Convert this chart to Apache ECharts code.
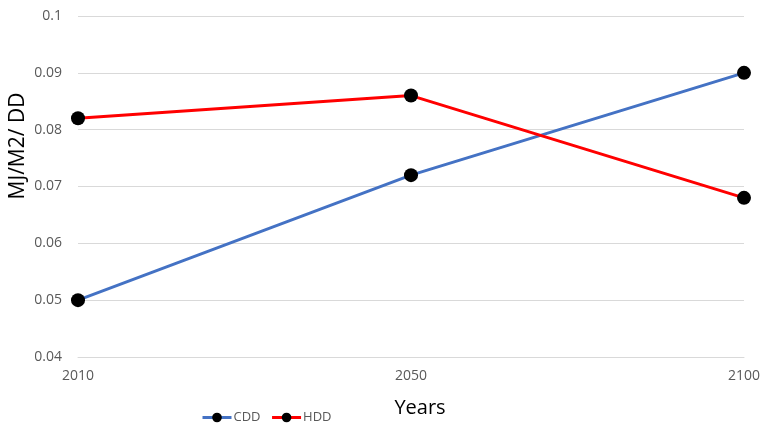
<!DOCTYPE html>
<html>
<head>
<meta charset="utf-8">
<script src="https://cdn.jsdelivr.net/npm/echarts@6/dist/echarts.min.js"></script>
<style>
  html, body { margin: 0; padding: 0; background: #fff; }
  #chart { width: 763px; height: 424px; }
</style>
</head>
<body>
<div id="chart"></div>
<script>
// Energy intensity per degree-day, by scenario year
const years = ['2010', '2050', '2100'];
const cddValues = [0.05, 0.072, 0.09];
const hddValues = [0.082, 0.086, 0.068];
const yTicks = { min: 0.04, max: 0.1, interval: 0.01 };
const xTitle = 'Years';
const yTitle = 'MJ/M2/ DD';

const chart = echarts.init(document.getElementById('chart'));
const font = "'Open Sans', 'Liberation Sans', sans-serif";

function lineSeries(name, data, color) {
  return {
    name: name,
    type: 'line',
    data: data,
    symbol: 'circle',
    symbolSize: 14,
    itemStyle: { color: '#000' },
    lineStyle: { color: color, width: 3 },
    emphasis: { disabled: true },
    animation: false
  };
}

chart.setOption({
  backgroundColor: '#fff',
  textStyle: { fontFamily: font },
  grid: { left: 78, right: 19, top: 16, bottom: 67, containLabel: false, outerBoundsMode: 'none' },
  legend: {
    left: 196,
    top: 406,
    itemWidth: 29,
    itemHeight: 12,
    itemGap: 10,
    textStyle: { color: '#595959', fontSize: 13, fontFamily: font, padding: [0, 0, 0, -3] },
    data: [
      { name: 'CDD', itemStyle: { color: '#000' }, lineStyle: { color: '#4472C4', width: 3 } },
      { name: 'HDD', itemStyle: { color: '#000' }, lineStyle: { color: '#FF0000', width: 3 } }
    ]
  },
  graphic: [
    {
      type: 'text',
      x: 420, y: 408,
      style: {
        text: xTitle, fill: '#000', font: '20px ' + font,
        textAlign: 'center', textVerticalAlign: 'middle'
      }
    },
    {
      type: 'text',
      x: 18, y: 146,
      rotation: Math.PI / 2,
      style: {
        text: yTitle, fill: '#000', font: '21px ' + font,
        textAlign: 'center', textVerticalAlign: 'middle'
      }
    }
  ],
  xAxis: {
    type: 'category',
    data: years,
    boundaryGap: false,
    axisLine: { lineStyle: { color: '#d9d9d9' } },
    axisTick: { show: false },
    axisLabel: { color: '#595959', fontSize: 14, margin: 12 },
    splitLine: { show: false }
  },
  yAxis: {
    type: 'value',
    min: yTicks.min,
    max: yTicks.max,
    interval: yTicks.interval,
    axisLine: { show: false },
    axisTick: { show: false },
    axisLabel: {
      color: '#595959',
      fontSize: 14,
      margin: 16,
      formatter: v => String(Math.round(v * 100) / 100)
    },
    splitLine: { lineStyle: { color: '#d9d9d9', width: 1 } }
  },
  series: [
    lineSeries('CDD', cddValues, '#4472C4'),
    lineSeries('HDD', hddValues, '#FF0000')
  ]
});
</script>
</body>
</html>
